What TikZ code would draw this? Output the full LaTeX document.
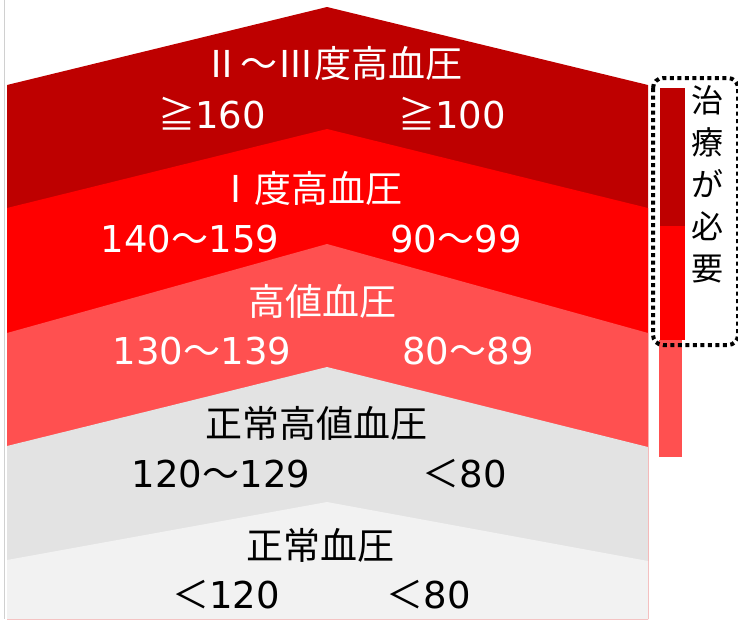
\documentclass[tikz,border=0pt]{standalone}
\usepackage{fontspec}
\setmainfont{Noto Sans CJK JP}
\newfontfamily\digf{DejaVu Sans}
\newcommand{\dg}[1]{{\digf\fontsize{37}{40}\selectfont #1}}
\definecolor{bandA}{HTML}{BE0000}
\definecolor{bandB}{HTML}{FF0000}
\definecolor{bandC}{HTML}{FF5050}
\definecolor{bandD}{HTML}{E3E3E3}
\definecolor{bandE}{HTML}{F2F2F2}
\definecolor{edgegrey}{HTML}{D0D0D0}
\begin{document}
\begin{tikzpicture}[x=1pt,y=-1pt,
  lab/.style={font=\fontsize{37}{40}\selectfont, inner sep=0pt, anchor=base},
  wlab/.style={lab, text=white},
  blab/.style={lab, text=black},
  vlab/.style={font=\fontsize{32}{42}\selectfont, inner sep=0pt, align=center, anchor=north, text=black},
  dotbox/.style={draw=black, line width=4pt, dash pattern=on 4pt off 3.5pt, rounded corners=10pt}]
\useasboundingbox (0,0) rectangle (738,619);
\fill[white] (0,0) rectangle (738,619);
\draw[edgegrey, line width=1.5pt] (4.5,0) -- (4.5,619);
% bands
\fill[bandA] (7,85) -- (327,7) -- (648,85) -- (648,619) -- (7,619) -- cycle;
\fill[bandB] (7,208) -- (327,129) -- (648,208) -- (648,619) -- (7,619) -- cycle;
\fill[bandC] (7,333) -- (327,244) -- (648,333) -- (648,619) -- (7,619) -- cycle;
\fill[bandD] (7,446) -- (327,367) -- (648,447) -- (648,619) -- (7,619) -- cycle;
\fill[bandE] (7,560) -- (327,502) -- (648,561) -- (648,619) -- (7,619) -- cycle;
% labels
\node[wlab] (t1) at (333,77) {Ⅱ～Ⅲ度高血圧};
\node[wlab] (s1) at (212,128) {≧\dg{160}};
\node[wlab] (d1) at (452,128) {≧\dg{100}};
\node[wlab] (t2) at (310,202) {Ⅰ度高血圧};
\node[wlab] (s2) at (190,252) {\dg{140}～\dg{159}};
\node[wlab] (d2) at (456,252) {\dg{90}～\dg{99}};
\node[wlab] (t3) at (322,315) {高値血圧};
\node[wlab] (s3) at (202,364) {\dg{130}～\dg{139}};
\node[wlab] (d3) at (468,364) {\dg{80}～\dg{89}};
\node[blab] (t4) at (316,437) {正常高値血圧};
\node[blab] (s4) at (221,487) {\dg{120}～\dg{129}};
\node[blab] (d4) at (465,487) {＜\dg{80}};
\node[blab] (t5) at (320,559) {正常血圧};
\node[blab] (s5) at (226,608) {＜\dg{120}};
\node[blab] (d5) at (429,608) {＜\dg{80}};
% side bar
\fill[bandA] (660,88) rectangle (685,226);
\fill[bandB] (660,226) rectangle (685,340);
\fill[bandC] (659,340) rectangle (682,457);
\draw[dotbox] (653,78) rectangle (738,345);
\node[vlab] (need) at (707,85) {治\\療\\が\\必\\要};
\end{tikzpicture}
\end{document}
